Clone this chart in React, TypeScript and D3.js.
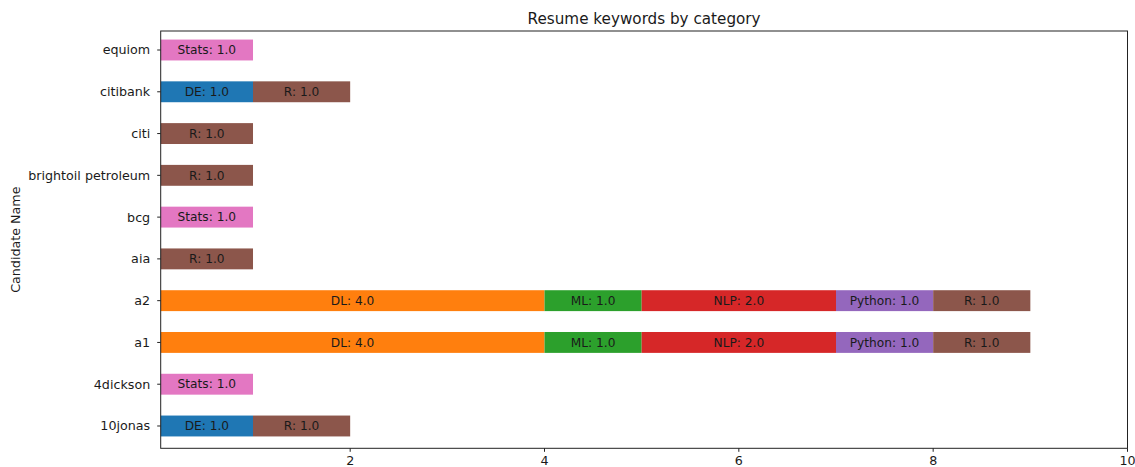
import React from "react";
import * as d3 from "d3";

const candidates = ["10jonas", "4dickson", "a1", "a2", "aia", "bcg", "brightoil petroleum", "citi", "citibank", "equiom"];
const keywordCategories = ["DE", "DL", "ML", "NLP", "Python", "R", "Stats"];
const categoryColors = ["#1f77b4", "#ff7f0e", "#2ca02c", "#d62728", "#9467bd", "#8c564b", "#e377c2"];
// counts per candidate, in keywordCategories order
const DE = [1, 0, 0, 0, 0, 0, 0, 0, 1, 0];
const DL = [0, 0, 4, 4, 0, 0, 0, 0, 0, 0];
const ML = [0, 0, 1, 1, 0, 0, 0, 0, 0, 0];
const NLP = [0, 0, 2, 2, 0, 0, 0, 0, 0, 0];
const Python = [0, 0, 1, 1, 0, 0, 0, 0, 0, 0];
const R = [1, 0, 1, 1, 1, 0, 1, 1, 1, 0];
const Stats = [0, 1, 0, 0, 0, 1, 0, 0, 0, 1];
const xTicks = [2, 4, 6, 8, 10];

const W = 1135;
const H = 467;
const left = 160.7;
const right = 1127.5;
const top = 31;
const bottom = 448.3;
const FONT = "DejaVu Sans, sans-serif";

export default function App() {
  const seriesValues = [DE, DL, ML, NLP, Python, R, Stats];
  const rows = candidates.map((name, i) => {
    const o: any = { name };
    keywordCategories.forEach((k, j) => (o[k] = seriesValues[j][i]));
    return o;
  });
  const stack = d3.stack<any>().keys(keywordCategories)(rows);

  const x = d3.scaleLinear().domain([0.05, 10]).range([left, right]);
  const y = d3.scaleLinear().domain([-0.534, 9.455]).range([bottom, top]);
  const barH = y(0) - y(0.5);
  const color = d3.scaleOrdinal<string, string>().domain(keywordCategories).range(categoryColors);

  return (
    <svg width={W} height={H} style={{ position: "absolute", left: 0, top: 0, background: "#fff" }} fontFamily={FONT}>
      <rect x={0} y={0} width={W} height={H} fill="#fff" />
      <defs>
        <clipPath id="plotclip">
          <rect x={left} y={top} width={right - left} height={bottom - top} />
        </clipPath>
      </defs>
      <g clipPath="url(#plotclip)">
        {stack.map((s) =>
          s.map((d, i) => {
            const v = d[1] - d[0];
            if (!v) return null;
            const x0 = x(d[0]);
            const x1 = x(d[1]);
            const cy = y(i);
            return (
              <g key={s.key + i}>
                <rect x={x0} y={cy - barH / 2} width={x1 - x0} height={barH} fill={color(s.key)} />
                <text
                  x={(Math.max(x0, left) + x1) / 2}
                  y={cy}
                  dy="0.35em"
                  textAnchor="middle"
                  fontSize={12.2}
                  fill="#1a1a1a"
                >
                  {`${s.key}: ${v.toFixed(1)}`}
                </text>
              </g>
            );
          })
        )}
      </g>
      <rect x={left} y={top} width={right - left} height={bottom - top} fill="none" stroke="#222" strokeWidth={1} />
      {candidates.map((c, i) => (
        <g key={c}>
          <line x1={left - 3.5} x2={left} y1={y(i)} y2={y(i)} stroke="#222" />
          <text x={left - 10.5} y={y(i)} dy="0.35em" textAnchor="end" fontSize={12.7} fill="#1a1a1a">
            {c}
          </text>
        </g>
      ))}
      {xTicks.map((t) => (
        <g key={t}>
          <line x1={x(t)} x2={x(t)} y1={bottom} y2={bottom + 3.5} stroke="#222" />
          <text x={x(t)} y={bottom + 17} textAnchor="middle" fontSize={12.7} fill="#1a1a1a">
            {t}
          </text>
        </g>
      ))}
      <text x={(left + right) / 2} y={24} textAnchor="middle" fontSize={15.2} fill="#1a1a1a">
        Resume keywords by category
      </text>
      <text transform={`translate(20, ${(top + bottom) / 2}) rotate(-90)`} textAnchor="middle" fontSize={12.7} fill="#1a1a1a">
        Candidate Name
      </text>
    </svg>
  );
}
